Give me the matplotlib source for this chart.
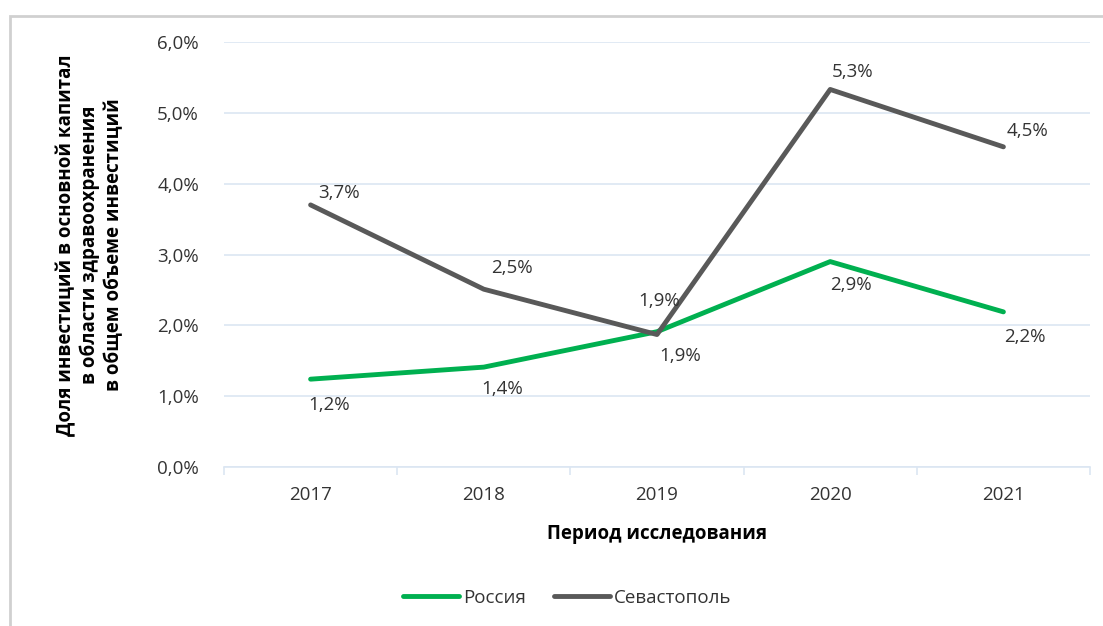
import numpy as np
import matplotlib.pyplot as plt
from matplotlib.patches import Rectangle

plt.rcParams['font.family'] = ['Open Sans', 'DejaVu Sans']

years = ['2017', '2018', '2019', '2020', '2021']
russia = [1.24, 1.41, 1.91, 2.90, 2.19]
sevastopol = [3.70, 2.51, 1.87, 5.33, 4.52]
russia_labels = ['1,2%', '1,4%', '1,9%', '2,9%', '2,2%']
sevastopol_labels = ['3,7%', '2,5%', '1,9%', '5,3%', '4,5%']

GREEN = '#00b050'
GREY = '#595959'
GRID = '#dce6f2'
TXT = '#333333'

# label offsets in pixels (dx, dy up)
sev_off = [(28, 12), (28, 21), (2, 34), (22, 17), (24, 16)]
rus_off = [(19, -26), (18, -22), (23, -24), (21, -23), (21, -25)]

fig = plt.figure(figsize=(11.03, 6.26), dpi=100)
ax = fig.add_axes([224 / 1103, 1 - 467 / 626, 866 / 1103, 425 / 626])

# Outer frame of the chart
fig.patches.append(Rectangle((10 / 1103, -0.05), 1.2, 1 - 16 / 626 + 0.05,
                             transform=fig.transFigure, fill=False,
                             edgecolor='#d0d0d0', linewidth=2))

x = np.arange(len(years))
ax.plot(x, russia, color=GREEN, linewidth=3.5, solid_capstyle='round', label='Россия')
ax.plot(x, sevastopol, color=GREY, linewidth=3.5, solid_capstyle='round', label='Севастополь')

# Data labels (pixel offsets -> points)
for i in range(len(years)):
    ax.annotate(sevastopol_labels[i], (x[i], sevastopol[i]),
                xytext=(sev_off[i][0] * 0.72, sev_off[i][1] * 0.72),
                textcoords='offset points', ha='center', va='center',
                fontsize=13.5, color=TXT)
    ax.annotate(russia_labels[i], (x[i], russia[i]),
                xytext=(rus_off[i][0] * 0.72, rus_off[i][1] * 0.72),
                textcoords='offset points', ha='center', va='center',
                fontsize=13.5, color=TXT)

ax.set_xlim(-0.5, len(years) - 0.5)
ax.set_ylim(0, 6)
ax.set_yticks(np.arange(0, 7, 1))
ax.set_yticklabels([f'{v},0%' for v in range(7)])
ax.set_xticks(x)
ax.set_xticklabels(years)
ax.set_xticks(np.arange(-0.5, len(years), 1), minor=True)

ax.grid(axis='y', color=GRID, linewidth=1.2)
ax.set_axisbelow(True)
for s in ['top', 'right', 'left']:
    ax.spines[s].set_visible(False)
ax.spines['bottom'].set_color(GRID)
ax.spines['bottom'].set_linewidth(1.2)
ax.tick_params(axis='y', length=0, labelsize=13.5, labelcolor=TXT, pad=18)
ax.tick_params(axis='x', which='major', length=0, labelsize=13.5, labelcolor=TXT, pad=14)
ax.tick_params(axis='x', which='minor', length=6, color=GRID, width=1.2)

ax.set_xlabel('Период исследования', fontsize=13.5, fontweight='bold', labelpad=14,
              color='black')
fig.text(90 / 1103, 1 - 245 / 626,
         'Доля инвестиций в основной капитал\nв области здравоохранения\nв общем объеме инвестиций',
         rotation=90, ha='center', va='center', fontsize=13.5, fontweight='bold',
         multialignment='center', linespacing=1.25)

fig.legend(loc='center', bbox_to_anchor=(567 / 1103, 1 - 598 / 626), ncol=2,
           frameon=False, fontsize=13.5, handlelength=3.0, handletextpad=0.2,
           columnspacing=1.5, labelcolor=TXT)

fig.savefig('out.png', dpi=100)
